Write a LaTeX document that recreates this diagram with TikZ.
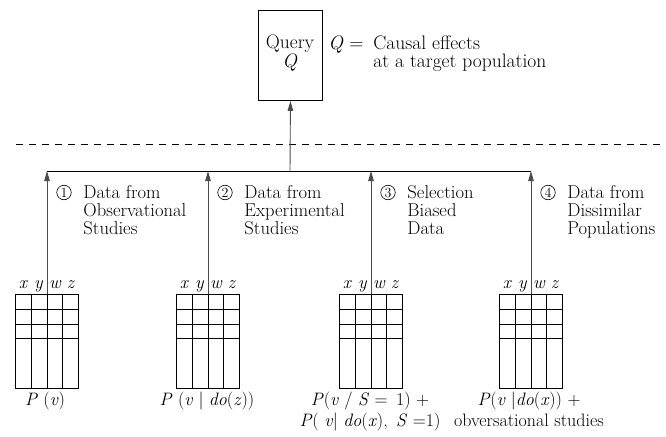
\documentclass[tikz,border=0pt]{standalone}
\usepackage{fontspec}
\usetikzlibrary{arrows.meta}
\begin{document}
\begin{tikzpicture}[x=1pt,y=-1pt, line width=0.9pt,
  lbl/.style={font=\fontsize{18.6}{18}\selectfont, align=left, inner sep=0pt, anchor=north west},
  bot/.style={font=\fontsize{18}{21}\selectfont, align=center, inner sep=0pt},
  col/.style={font=\fontsize{18}{18}\selectfont\itshape, inner sep=0pt, anchor=base},
  num/.style={circle, draw, line width=0.6pt, inner sep=0pt, minimum size=14.5pt, font=\fontsize{14}{14}\selectfont},
  arr/.style={draw=black!70, -{Triangle[length=10pt,width=5.5pt]}},
  tbl/.style={draw, inner sep=0pt, minimum width=63pt, minimum height=94pt, anchor=north},
  top/.style={font=\fontsize{19.5}{17.5}\selectfont, inner sep=0pt}]
\useasboundingbox (0,0) rectangle (666,436);

% query box
\node[draw, inner sep=0pt, minimum width=64pt, minimum height=90pt, anchor=north west] (query) at (258,10) {};
\node[top, align=center, anchor=base] (qtext) at (290,67) {Query\\\textit{Q}};
\node[top, anchor=base west] (qeq) at (328,49.5) {\textit{Q} =};
\node[top, align=left, anchor=base west] (qdesc) at (373,67) {Causal effects\\at a target population};

% dashed separator
\coordinate (dl) at (16,144);
\coordinate (dr) at (662,144);
\draw[dashed, dash pattern=on 7pt off 6pt, line width=0.6pt] (dl) -- (dr);

% tables
\foreach \cx/\n in {47/1,208/2,371/3,531/4} {
  \node[tbl] (t\n) at (\cx,294) {};
  \foreach \dx in {-15.75,0,15.75} \draw (\cx+\dx,294) -- (\cx+\dx,388);
  \foreach \yy in {309,324,338} \draw (\cx-31.5,\yy) -- (\cx+31.5,\yy);
  \node[col] (x\n) at (\cx-24,288) {x};
  \node[col] (y\n) at (\cx-8.5,288) {y};
  \node[col] (w\n) at (\cx+8,288) {w};
  \node[col] (z\n) at (\cx+23.5,288) {z};
  \coordinate (h\n) at (\cx,171);
  \draw[arr] (t\n.north) -- (h\n);
  \node[num] (c\n) at (\cx+17,192.5) {\n};
}
\draw (h1) -- (h4);
\coordinate (hq) at (290,171);
\draw[arr] (hq) -- (query.south);

% category labels
\node[lbl] (l1) at (83,185) {Data from\\Observational\\Studies};
\node[lbl] (l2) at (244,185) {Data from\\Experimental\\Studies};
\node[lbl] (l3) at (407,185) {Selection\\Biased\\Data};
\node[lbl] (l4) at (567,185) {Data from\\Dissimilar\\Populations};

% bottom labels
\node[bot, anchor=base] (b1) at (45,405) {\textit{P} (\textit{v})};
\node[bot, anchor=base] (b2) at (207,405) {\textit{P} (\textit{v} | \textit{do}(\textit{z}))};
\node[bot, anchor=base] (b3) at (370,426) {\textit{P}(\textit{v} / \textit{S} =\, 1) +\\\textit{P}( \textit{v}| \textit{do}(\textit{x}), \,\textit{S} =1)};
\node[bot, anchor=base] (b4) at (529,426) {\textit{P}(\textit{v} |\textit{do}(\textit{x})) +\\obversational studies};
\end{tikzpicture}
\end{document}
